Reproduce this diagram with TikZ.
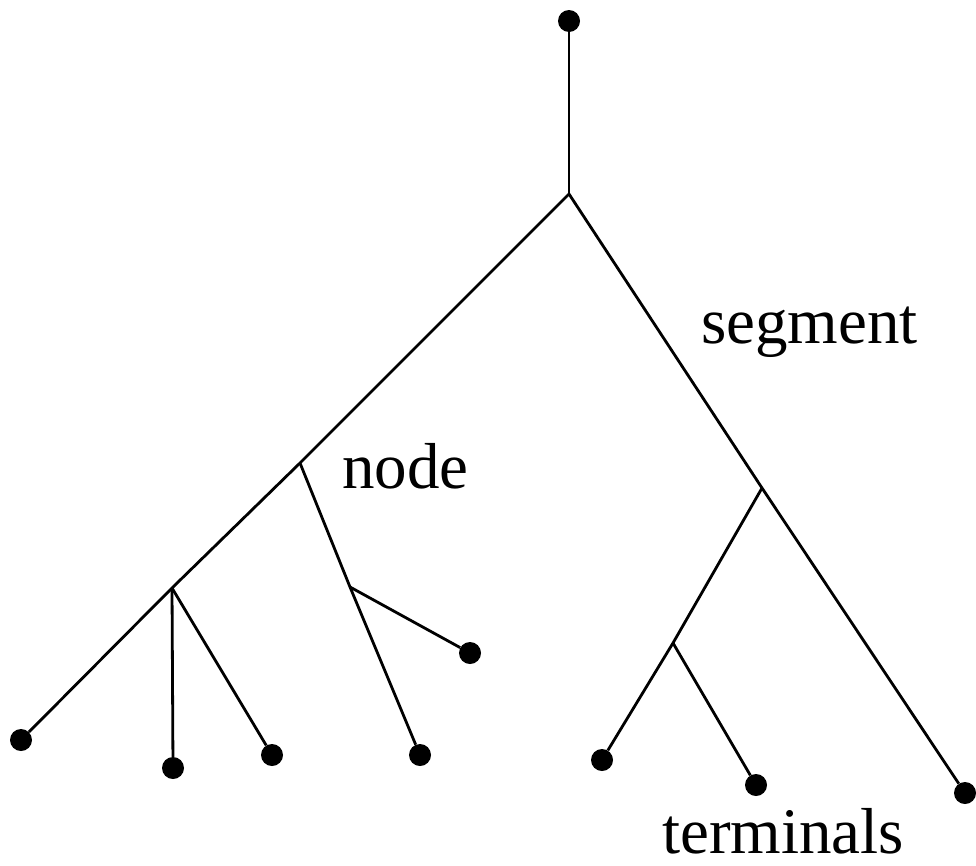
\documentclass[tikz,border=0pt]{standalone}
\usepackage{fontspec}
\setmainfont{Liberation Serif}
\begin{document}
\begin{tikzpicture}[x=1pt,y=-1pt,
  seg/.style={line width=2.8pt},
  term/.style={circle,fill=black,inner sep=0pt,minimum size=22pt},
  lbl/.style={font=\fontsize{65}{78}\selectfont,anchor=base west,inner sep=0pt,text depth=0pt}]
\useasboundingbox (0,0) rectangle (976,865);
% junctions
\coordinate (root) at (569,194);
\coordinate (jl) at (300,463);
\coordinate (jll) at (172,588);
\coordinate (jn) at (350,587);
\coordinate (jr) at (762,488);
\coordinate (jrr) at (673,643);
% terminals
\node[term] (top) at (569,21) {};
\node[term] (t1) at (21,740) {};
\node[term] (t2) at (173,768) {};
\node[term] (t3) at (272,755) {};
\node[term] (t4) at (420,755) {};
\node[term] (t5) at (470,653) {};
\node[term] (t6) at (602,760) {};
\node[term] (t7) at (756,785) {};
\node[term] (t8) at (965,793) {};
% segments
\draw[seg] (top) -- (root);
\draw[seg] (root) -- (jl) -- (jll) -- (t1);
\draw[seg] (jll) -- (t2);
\draw[seg] (jll) -- (t3);
\draw[seg] (jl) -- (jn) -- (t4);
\draw[seg] (jn) -- (t5);
\draw[seg] (root) -- (jr) -- (t8);
\draw[seg] (jr) -- (jrr) -- (t6);
\draw[seg] (jrr) -- (t7);
% labels
\node[lbl] (lseg) at (701,343) {segment};
\node[lbl] (lnode) at (342,488) {node};
\node[lbl] (lterm) at (662,853) {terminals};
\end{tikzpicture}
\end{document}
